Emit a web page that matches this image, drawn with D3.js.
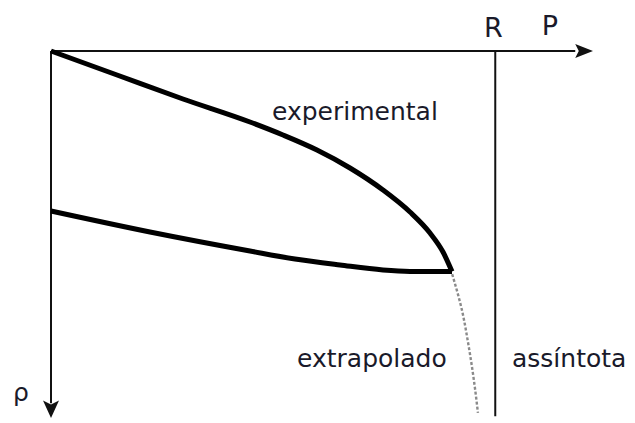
<!DOCTYPE html>
<html>
<head>
<meta charset="utf-8">
<script src="https://cdn.jsdelivr.net/npm/d3@7"></script>
<style>
  html, body { margin: 0; padding: 0; background: #fff; }
  svg { display: block; }
  text { font-family: "DejaVu Sans", Verdana, sans-serif; fill: #1a1a2a; }
</style>
</head>
<body>
<svg id="chart" width="635" height="423"></svg>
<script>
// ---- data (P along x, rho along y, in arbitrary units; R = 100) ----
const asymptoteP = 100;
const experimentalUpper = [
  [0, 0], [14.86, 6.54], [29.71, 13.08], [44.79, 19.35], [52.22, 22.89],
  [59.87, 26.98], [67.30, 31.88], [74.73, 37.87], [80.81, 43.87],
  [85.31, 49.59], [88.24, 54.77], [90.26, 60.1]
];
const experimentalLower = [
  [0, 43.6], [22.28, 49.32], [44.79, 54.5], [54.92, 56.68], [65.05, 58.31],
  [74.73, 59.67], [80.81, 60.05], [90.26, 60.1]
];
const extrapolated = [
  [90.3, 60.8], [92.5, 70.6], [93.9, 79.6], [95.4, 91.6], [96.1, 98.6]
];
const labels = ["experimental", "extrapolado", "assíntota", "R", "P", "ρ"];

// ---- scales ----
const x = d3.scaleLinear().domain([0, 122]).range([51, 593]);
const y = d3.scaleLinear().domain([0, 100]).range([51, 418]);

const svg = d3.select("#chart");
const ink = "#111";

// axes
svg.append("line").attr("x1", x(0)).attr("y1", y(0)).attr("x2", x(118)).attr("y2", y(0))
  .attr("stroke", ink).attr("stroke-width", 2);
svg.append("path")
  .attr("d", `M${x(122)},${y(0)} L${x(118)},${y(0) - 7} L${x(118.8)},${y(0)} L${x(118)},${y(0) + 7} Z`)
  .attr("fill", ink);
svg.append("line").attr("x1", x(0)).attr("y1", y(0)).attr("x2", x(0)).attr("y2", y(96))
  .attr("stroke", ink).attr("stroke-width", 2);
svg.append("path")
  .attr("d", `M${x(0)},${y(100)} L${x(0) - 8},${y(95.2)} L${x(0)},${y(96.3)} L${x(0) + 8},${y(95.2)} Z`)
  .attr("fill", ink);

// asymptote
svg.append("line").attr("x1", x(asymptoteP)).attr("y1", y(0)).attr("x2", x(asymptoteP)).attr("y2", y(99.5))
  .attr("stroke", ink).attr("stroke-width", 2);

// curves
const lineX = d3.line().x(d => x(d[0])).y(d => y(d[1])).curve(d3.curveMonotoneX);
const lineY = d3.line().x(d => x(d[0])).y(d => y(d[1])).curve(d3.curveMonotoneY);
svg.append("path").datum(extrapolated).attr("d", lineY)
  .attr("fill", "none").attr("stroke", "#8a8a8a").attr("stroke-width", 2.4)
  .attr("stroke-dasharray", "3,2");
svg.append("path").datum(experimentalUpper).attr("d", lineX)
  .attr("fill", "none").attr("stroke", "#000").attr("stroke-width", 5)
  .attr("stroke-linejoin", "round");
svg.append("path").datum(experimentalLower).attr("d", lineX)
  .attr("fill", "none").attr("stroke", "#000").attr("stroke-width", 5)
  .attr("stroke-linejoin", "round");

// labels
svg.append("text").attr("x", 272).attr("y", 120).attr("font-size", 25).text(labels[0]);
svg.append("text").attr("x", 297).attr("y", 367).attr("font-size", 25).text(labels[1]);
svg.append("text").attr("x", 512).attr("y", 367).attr("font-size", 25).text(labels[2]);
svg.append("text").attr("x", x(asymptoteP) - 2).attr("y", 37).attr("text-anchor", "middle").attr("font-size", 27).text(labels[3]);
svg.append("text").attr("x", 550).attr("y", 35).attr("text-anchor", "middle").attr("font-size", 27).text(labels[4]);
svg.append("text").attr("x", 21).attr("y", 401).attr("text-anchor", "middle").attr("font-size", 25).text(labels[5]);
</script>
</body>
</html>
